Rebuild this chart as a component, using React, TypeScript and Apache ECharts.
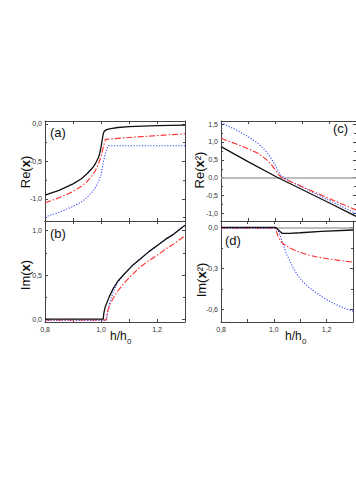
import React, { useEffect, useRef } from 'react';
import * as echarts from 'echarts';

// (a) Re(x)
const reBlackH = [0.8, 0.85, 0.9, 0.93, 0.95, 0.97, 0.98, 0.99, 0.995, 1.0, 1.004, 1.008, 1.012, 1.02, 1.03, 1.06, 1.1, 1.2, 1.3];
const reBlackV = [-0.95, -0.885, -0.8, -0.73, -0.665, -0.585, -0.53, -0.455, -0.4, -0.31, -0.22, -0.13, -0.095, -0.075, -0.064, -0.047, -0.036, -0.023, -0.015];
const reRedH = [0.8, 0.85, 0.9, 0.93, 0.95, 0.97, 0.98, 0.99, 1.0, 1.005, 1.01, 1.016, 1.05, 1.1, 1.2, 1.3];
const reRedV = [-1.05, -0.985, -0.9, -0.83, -0.77, -0.68, -0.62, -0.54, -0.44, -0.36, -0.28, -0.205, -0.195, -0.18, -0.155, -0.13];
const reBlueH = [0.8, 0.85, 0.9, 0.93, 0.95, 0.97, 0.98, 0.99, 1.0, 1.005, 1.01, 1.015, 1.02, 1.027, 1.1, 1.2, 1.3];
const reBlueV = [-1.24, -1.18, -1.1, -1.04, -0.98, -0.9, -0.85, -0.78, -0.68, -0.58, -0.48, -0.4, -0.34, -0.29, -0.29, -0.29, -0.29];

// (b) Im(x)
const imBlackH = [0.8, 1.0, 1.008, 1.01, 1.012, 1.016, 1.02, 1.03, 1.044, 1.06, 1.08, 1.11, 1.14, 1.17, 1.2, 1.23, 1.26, 1.3];
const imBlackV = [0.005, 0.005, 0.005, 0.07, 0.1, 0.15, 0.18, 0.26, 0.35, 0.43, 0.5, 0.6, 0.68, 0.76, 0.83, 0.9, 0.96, 1.06];
const imRedH = [0.8, 1.0, 1.018, 1.022, 1.03, 1.04, 1.06, 1.08, 1.11, 1.14, 1.17, 1.2, 1.23, 1.26, 1.3];
const imRedV = [-0.005, -0.005, -0.005, 0.08, 0.15, 0.22, 0.32, 0.4, 0.5, 0.59, 0.66, 0.72, 0.79, 0.85, 0.94];
const imBlueH = [0.8, 1.0, 1.02, 1.025, 1.032, 1.045, 1.06, 1.08, 1.11, 1.14, 1.17, 1.2, 1.23, 1.26, 1.3];
const imBlueV = [-0.01, -0.01, -0.01, 0.1, 0.2, 0.32, 0.42, 0.5, 0.6, 0.68, 0.76, 0.83, 0.9, 0.96, 1.06];

// (c) Re(x^2)
const re2BlackH = [0.8, 0.9, 1.006, 1.1, 1.2, 1.3];
const re2BlackV = [0.87, 0.45, 0.02, -0.33, -0.7, -1.08];
const re2RedH = [0.8, 0.85, 0.9, 0.94, 0.97, 0.985, 1.0, 1.015, 1.025, 1.1, 1.2, 1.3];
const re2RedV = [1.1, 0.96, 0.81, 0.67, 0.5, 0.38, 0.23, 0.07, 0.0, -0.25, -0.58, -0.9];
const re2BlueH = [0.8, 0.85, 0.9, 0.93, 0.95, 0.97, 0.98, 0.99, 1.0, 1.01, 1.02, 1.035, 1.1, 1.2, 1.3];
const re2BlueV = [1.54, 1.36, 1.15, 1.0, 0.87, 0.71, 0.61, 0.49, 0.36, 0.21, 0.08, -0.01, -0.26, -0.63, -1.0];

// (d) Im(x^2)
const im2BlackH = [0.8, 1.0, 1.006, 1.031, 1.06, 1.1, 1.18, 1.3];
const im2BlackV = [0, 0, 0, -0.044, -0.044, -0.04, -0.03, -0.02];
const im2RedH = [0.8, 1.0, 1.006, 1.01, 1.015, 1.025, 1.035, 1.049, 1.065, 1.085, 1.11, 1.133, 1.16, 1.181, 1.21, 1.241, 1.3];
const im2RedV = [-0.005, -0.005, -0.005, -0.03, -0.06, -0.1, -0.12, -0.137, -0.155, -0.174, -0.19, -0.203, -0.215, -0.223, -0.232, -0.24, -0.255];
const im2BlueH = [0.8, 1.0, 1.013, 1.022, 1.031, 1.049, 1.073, 1.09, 1.109, 1.13, 1.157, 1.18, 1.205, 1.23, 1.253, 1.3];
const im2BlueV = [-0.008, -0.008, -0.008, -0.05, -0.1, -0.2, -0.295, -0.35, -0.395, -0.435, -0.475, -0.505, -0.535, -0.56, -0.58, -0.615];

// axes
const xMin = 0.8;
const xMax = 1.3;
const xStep = 0.1;
const yMins = [-1.295, -0.028, -1.21, -0.693];
const yMaxs = [0.04, 1.107, 1.585, 0.046];
const ySplits = [2, 2, 5, 2];
const yLabelSteps = [0.5, 0.5, 0.5, 0.3];
const panelLetters = ['(a)', '(b)', '(c)', '(d)'];

const pairs = (xs: number[], ys: number[]) => xs.map((x, i) => [x, ys[i]]);

const AX = '#444';
const FONT = 'Liberation Sans, Arial, sans-serif';

const fmt = (v: number) => {
  const s = Math.abs(v) < 1e-9 ? '0.0' : v.toFixed(1);
  return s.replace('.', ',');
};

export default function App() {
  const ref = useRef<HTMLDivElement>(null);
  useEffect(() => {
    if (!ref.current) return;
    const chart = echarts.init(ref.current, null, { renderer: 'svg' });
    const grids = [
      { left: 45, top: 121, width: 140, height: 100 },
      { left: 45, top: 221, width: 140, height: 101 },
      { left: 221, top: 121, width: 139, height: 100 },
      { left: 221, top: 221, width: 139, height: 101 },
    ];
    const xAxis: any[] = [];
    const yAxis: any[] = [];
    grids.forEach((_, g) => {
      const showX = g === 1 || g === 3;
      ['bottom', 'top'].forEach((pos) => {
        xAxis.push({
          type: 'value', gridIndex: g, position: pos, min: xMin, max: xMax, interval: xStep,
          axisLine: { show: true, onZero: false, lineStyle: { color: AX, width: 1 } },
          axisTick: { show: true, inside: true, length: 3, lineStyle: { color: AX } },
          axisLabel: {
            show: showX && pos === 'bottom', fontSize: 7, color: '#333', fontFamily: FONT, margin: 4,
            formatter: (v: number) => (Math.round(v * 10) % 2 === 0 ? fmt(v) : ''),
          },
          splitLine: { show: false },
        });
      });
      ['left', 'right'].forEach((pos) => {
        const step = yLabelSteps[g];
        yAxis.push({
          type: 'value', gridIndex: g, position: pos, min: yMins[g], max: yMaxs[g], splitNumber: ySplits[g],
          axisLine: { show: true, onZero: false, lineStyle: { color: AX, width: 1 } },
          axisTick: { show: true, inside: true, length: 3, lineStyle: { color: AX } },
          minorTick: { show: true, splitNumber: 2, length: 2, lineStyle: { color: AX } },
          axisLabel: {
            show: pos === 'left', fontSize: 7, color: '#333', fontFamily: FONT, margin: 3,
            showMinLabel: false, showMaxLabel: false,
            formatter: (v: number) => (Math.abs(v / step - Math.round(v / step)) < 1e-6 ? fmt(v) : ''),
          },
          splitLine: { show: false },
        });
      });
    });

    const mk = (g: number, xs: number[], ys: number[], kind: 'k' | 'r' | 'b', zero = false) => {
      const style =
        kind === 'k' ? { color: '#111', width: 1.3, type: 'solid' }
        : kind === 'r' ? { color: '#ff2a2a', width: 1.1, type: [6, 2, 1.5, 2] }
        : { color: '#3a4bff', width: 1.1, type: [1.2, 1.6] };
      const s: any = {
        type: 'line', xAxisIndex: 2 * g, yAxisIndex: 2 * g, data: pairs(xs, ys),
        showSymbol: false, symbol: 'none', lineStyle: style, silent: true, z: kind === 'k' ? 4 : 3,
      };
      if (zero) {
        s.markLine = {
          silent: true, symbol: 'none', label: { show: false },
          lineStyle: { color: '#a8a8a8', width: 1.5, type: 'solid' },
          data: [{ yAxis: 0 }], z: 1,
        };
      }
      return s;
    };

    const series = [
      mk(0, reBlueH, reBlueV, 'b'), mk(0, reRedH, reRedV, 'r'), mk(0, reBlackH, reBlackV, 'k'),
      mk(1, imBlueH, imBlueV, 'b'), mk(1, imRedH, imRedV, 'r'), mk(1, imBlackH, imBlackV, 'k'),
      mk(2, re2BlueH, re2BlueV, 'b'), mk(2, re2RedH, re2RedV, 'r'), mk(2, re2BlackH, re2BlackV, 'k', true),
      mk(3, im2BlueH, im2BlueV, 'b'), mk(3, im2RedH, im2RedV, 'r'), mk(3, im2BlackH, im2BlackV, 'k', true),
    ];

    const letterPos = [[50, 132], [50, 233], [333, 128], [225, 240]];
    const titleRich = {
      a: { fontSize: 13, fontFamily: FONT, fill: '#111' },
      b: { fontSize: 13, fontFamily: FONT, fill: '#111', fontWeight: 'bold' },
    };
    const yTitles = [
      { text: '{a|Re(}{b|x}{a|)}', x: 25, y: 172 },
      { text: '{a|Im(}{b|x}{a|)}', x: 25, y: 275 },
      { text: '{a|Re(}{b|x}{a|²)}', x: 199, y: 170 },
      { text: '{a|Im(}{b|x}{a|²)}', x: 201, y: 280 },
    ];
    const graphic: any[] = [];
    panelLetters.forEach((t, i) => {
      graphic.push({
        type: 'text', x: letterPos[i][0], y: letterPos[i][1],
        style: { text: t, fontSize: 13, fontFamily: FONT, fill: '#111', textVerticalAlign: 'middle', textAlign: 'left' },
      });
    });
    yTitles.forEach((t) => {
      graphic.push({
        type: 'text', x: t.x, y: t.y, rotation: Math.PI / 2,
        style: { text: t.text, rich: titleRich, textAlign: 'center', textVerticalAlign: 'middle' },
      });
    });
    [110, 285].forEach((x0) => {
      graphic.push({
        type: 'text', x: x0, y: 336,
        style: { text: 'h/h', fontSize: 12, fontFamily: FONT, fill: '#111', textVerticalAlign: 'middle', textAlign: 'left' },
      });
      graphic.push({
        type: 'text', x: x0 + 17, y: 341,
        style: { text: '0', fontSize: 8, fontFamily: FONT, fill: '#111', textVerticalAlign: 'middle', textAlign: 'left' },
      });
    });

    chart.setOption({
      animation: false,
      backgroundColor: '#fff',
      grid: grids.map((g) => ({ ...g, show: false, containLabel: false })),
      xAxis,
      yAxis,
      series,
      graphic,
    });
    return () => chart.dispose();
  }, []);
  return <div ref={ref} style={{ position: 'fixed', left: 0, top: 0, width: 356, height: 503 }} />;
}
